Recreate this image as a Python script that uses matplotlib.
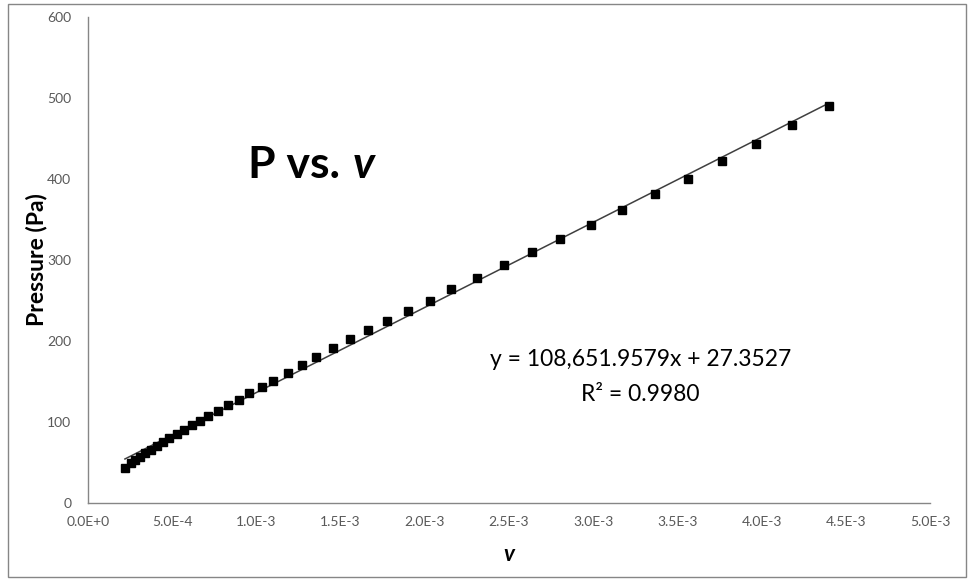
import matplotlib
matplotlib.use("Agg")
import matplotlib.pyplot as plt
import numpy as np
from matplotlib.patches import Rectangle
from matplotlib.ticker import FuncFormatter

plt.rcParams["font.family"] = ["Lato", "DejaVu Sans"]

# specific volume v (m^3/kg) and pressure P (Pa)
v = np.array([
    0.2196, 0.2534, 0.2789, 0.3086, 0.3383, 0.3721, 0.4077, 0.4433, 0.4825,
    0.5264, 0.5697, 0.6154, 0.6647, 0.7122, 0.7733, 0.8291, 0.8961, 0.9573,
    1.0309, 1.0997, 1.1852, 1.2682, 1.3561, 1.4522, 1.5567, 1.6635, 1.7763,
    1.8991, 2.0297, 2.1573, 2.3104, 2.4707, 2.6368, 2.8053, 2.9852, 3.1709,
    3.3668, 3.5626, 3.7626, 3.9685, 4.1798, 4.3994,
]) * 1e-3
pressure = np.array([
    42.8, 49.0, 53.1, 57.2, 61.4, 65.4, 70.4, 74.9, 79.9,
    85.2, 90.1, 96.3, 101.6, 108.0, 113.6, 121.0, 127.2, 135.4,
    143.6, 151.0, 160.9, 170.4, 180.2, 191.0, 202.1, 213.2, 224.3,
    236.7, 249.0, 264.2, 277.8, 293.8, 309.5, 325.6, 342.8, 362.1,
    381.1, 400.0, 422.6, 443.2, 466.7, 490.1,
])

x_ticks = np.arange(0, 5.01e-3, 0.5e-3)
y_ticks = [0, 100, 200, 300, 400, 500, 600]

eq_text = "y = 108,651.9579x + 27.3527"
r2_text = "R² = 0.9980"

tick_grey = "#595959"
axis_grey = "#868686"


def sci_label(val, pos):
    if val == 0:
        return "0.0E+0"
    exp = int(np.floor(np.log10(abs(val))))
    return f"{val / 10 ** exp:.1f}E{exp}"


fig = plt.figure(figsize=(9.73, 5.82), dpi=100)
ax = fig.add_axes([0.0904, 0.1357, 0.8654, 0.835])

# linear trendline over the data range
slope, intercept = np.polyfit(v, pressure, 1)
xs = np.array([v.min(), v.max()])
ax.plot(xs, slope * xs + intercept, color="#3f3f3f", linewidth=1.1, zorder=2)
ax.plot(v, pressure, linestyle="none", marker="s", markersize=5.5,
        color="black", zorder=3)

ax.set_xlim(0, 5e-3)
ax.set_ylim(0, 600)
ax.set_xticks(x_ticks)
ax.set_yticks(y_ticks)
ax.xaxis.set_major_formatter(FuncFormatter(sci_label))
ax.tick_params(axis="both", length=0, labelsize=10, labelcolor=tick_grey)
ax.tick_params(axis="y", pad=12)
ax.tick_params(axis="x", pad=9)

for side in ("top", "right"):
    ax.spines[side].set_visible(False)
for side in ("left", "bottom"):
    ax.spines[side].set_color(axis_grey)
    ax.spines[side].set_linewidth(1.0)

ax.set_xlabel("v", fontsize=16, fontweight="bold", style="italic",
              labelpad=12)
ax.set_ylabel("Pressure (Pa)", fontsize=16.5, fontweight="bold", labelpad=0)

title = fig.text(0.255, 0.695, "P vs.", fontsize=32, fontweight="bold",
                 ha="left", va="baseline")
fig.canvas.draw()
bb = title.get_window_extent().transformed(fig.transFigure.inverted())
fig.text(bb.x1 + 0.013, 0.695, "v", fontsize=32, fontweight="bold",
         style="italic", ha="left", va="baseline")

ax.text(0.658, 0.382, eq_text, transform=fig.transFigure, fontsize=16.5,
        ha="center", va="center")
ax.text(0.658, 0.322, r2_text, transform=fig.transFigure, fontsize=16.5,
        ha="center", va="center")

fig.patches.append(Rectangle((0.008, 0.008), 0.985, 0.985,
                             transform=fig.transFigure, fill=False,
                             edgecolor=axis_grey, linewidth=1.0))

fig.savefig("out.png", dpi=100)
